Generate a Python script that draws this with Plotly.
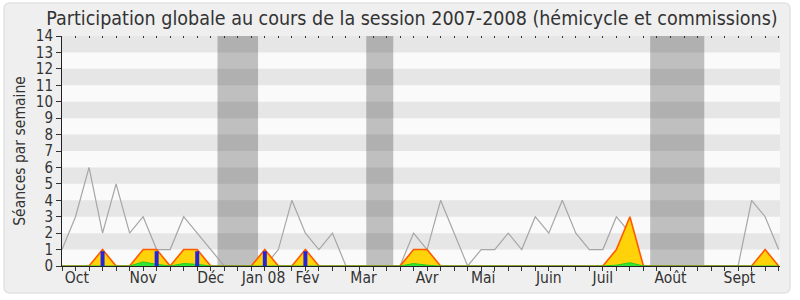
import plotly.graph_objects as go

# ---- data ----
weeks = list(range(54))
total_line = [1, 3, 6, 2, 5, 2, 3, 1, 1, 3, 2, 1, 0, 0, 0, 0, 1, 4, 2, 1,
              2, 0, 0, 0, 0, 0, 2, 1, 4, 2, 0, 1, 1, 2, 1, 3, 2, 4, 2, 1,
              1, 3, 2, 0, 0, 0, 0, 0, 0, 0, 0, 4, 3, 1]
presence = [0, 0, 0, 1, 0, 0, 1, 1, 0, 1, 1, 0, 0, 0, 0, 1, 0, 0, 1, 0,
            0, 0, 0, 0, 0, 0, 1, 1, 0, 0, 0, 0, 0, 0, 0, 0, 0, 0, 0, 0,
            0, 1, 3, 0, 0, 0, 0, 0, 0, 0, 0, 0, 1, 0]
commission = [0, 0, 0, 0, 0, 0, 0.25, 0.1, 0, 0.15, 0.1, 0, 0, 0, 0, 0, 0, 0, 0, 0,
              0, 0, 0, 0, 0, 0, 0.15, 0.05, 0, 0, 0, 0, 0, 0, 0, 0, 0, 0, 0, 0,
              0, 0.05, 0.2, 0, 0, 0, 0, 0, 0, 0, 0, 0, 0.03, 0]
interv_weeks = [3, 7, 10, 15, 18]
interv_values = [0.9, 0.9, 0.9, 0.9, 0.9]
vacances = [(11.5, 14.5), (22.5, 24.5), (43.5, 47.5)]
month_pos = [1.1, 6.0, 11.0, 14.9, 18.15, 22.3, 27.0, 31.15, 36.0, 40.0, 45.0, 50.1]
month_labels = ["Oct", "Nov", "Déc", "Jan 08", "Fév", "Mar", "Avr", "Mai", "Juin", "Juil", "Août", "Sept"]
y_ticks = list(range(15))

FONT = "DejaVu Sans Condensed"
XR = [0, 53.1]
ML, MR, MT, MB = 62, 20, 36, 34
W, H = 800, 300
PW, PH = W - ML - MR, H - MT - MB

fig = go.Figure()

# gray line
fig.add_trace(go.Scatter(x=weeks, y=total_line, mode="lines",
                         line=dict(color="#a6a6a6", width=1.2), hoverinfo="skip", showlegend=False))
# presence area (yellow)
fig.add_trace(go.Scatter(x=weeks, y=presence, mode="lines", fill="tozeroy",
                         fillcolor="#ffd20a", line=dict(color="#ff5a00", width=1.6),
                         hoverinfo="skip", showlegend=False))
# commission area (green)
fig.add_trace(go.Scatter(x=weeks, y=commission, mode="lines", fill="tozeroy",
                         fillcolor="#33e633", line=dict(color="#22cc22", width=1),
                         hoverinfo="skip", showlegend=False))
# interventions (blue bars as thick segments)
bx, by = [], []
for w, v in zip(interv_weeks, interv_values):
    bx += [w, w, None]
    by += [0, v, None]
fig.add_trace(go.Scatter(x=bx, y=by, mode="lines", line=dict(color="#2424dc", width=4),
                         hoverinfo="skip", showlegend=False))
# helper traces for extra axes
fig.add_trace(go.Scatter(x=[None], y=[None], xaxis="x2", showlegend=False, hoverinfo="skip"))
fig.add_trace(go.Scatter(x=[None], y=[None], xaxis="x3", showlegend=False, hoverinfo="skip"))

shapes = []


def px(x):
    return (x - ML) / PW


def py(y):
    return (H - MB - y) / PH


# rounded frame
x0, x1, y0, y1, r = 4, 790, 3, 293, 6
path = (f"M {px(x0 + r)} {py(y0)} L {px(x1 - r)} {py(y0)} Q {px(x1)} {py(y0)} {px(x1)} {py(y0 + r)} "
        f"L {px(x1)} {py(y1 - r)} Q {px(x1)} {py(y1)} {px(x1 - r)} {py(y1)} "
        f"L {px(x0 + r)} {py(y1)} Q {px(x0)} {py(y1)} {px(x0)} {py(y1 - r)} "
        f"L {px(x0)} {py(y0 + r)} Q {px(x0)} {py(y0)} {px(x0 + r)} {py(y0)} Z")
shapes.append(dict(type="path", xref="paper", yref="paper", path=path,
                   fillcolor="#efefef", line=dict(color="#e2e2e2", width=1.5), layer="below"))
# plot background
shapes.append(dict(type="rect", xref="paper", yref="paper", x0=0, x1=1, y0=0, y1=1,
                   fillcolor="#fafafa", line=dict(width=0), layer="below"))
# background stripes
for k in range(1, 14, 2):
    shapes.append(dict(type="rect", xref="paper", yref="y", x0=0, x1=1, y0=k, y1=k + 1,
                       fillcolor="#e6e6e6", line=dict(width=0), layer="below"))
# vacation bands
for a, b in vacances:
    shapes.append(dict(type="rect", xref="x", yref="paper", x0=a, x1=b, y0=0, y1=1,
                       fillcolor="rgba(0,0,0,0.235)", line=dict(width=0), layer="below"))

fig.update_layout(
    width=W, height=H,
    margin=dict(l=ML, r=MR, t=MT, b=MB),
    paper_bgcolor="#ffffff",
    plot_bgcolor="#fafafa",
    shapes=shapes,
    showlegend=False,
    title=dict(text="Participation globale au cours de la session 2007-2008 (hémicycle et commissions)",
               x=(412 - ML) / PW, xref="paper", xanchor="center",
               y=1 - 18 / H, yref="container", yanchor="middle",
               font=dict(family=FONT, size=19.5, color="#333333")),
    xaxis=dict(range=XR, tickvals=weeks, showticklabels=False, ticks="outside", ticklen=4,
               tickcolor="#333333", tickwidth=1, showline=True, linecolor="#222222", linewidth=1,
               showgrid=False, zeroline=False),
    xaxis2=dict(range=XR, overlaying="x", side="bottom", tickvals=month_pos, ticktext=month_labels,
                ticks="", showline=False, showgrid=False, zeroline=False,
                tickfont=dict(family=FONT, size=15.5, color="#333333")),
    xaxis3=dict(range=XR, overlaying="x", side="top", tickvals=weeks, showticklabels=False,
                ticks="inside", ticklen=2, tickcolor="#333333", showline=False, showgrid=False,
                zeroline=False),
    yaxis=dict(range=[0, 14], tickvals=y_ticks, ticks="outside", ticklen=5, tickcolor="#333333",
               showline=True, linecolor="#222222", linewidth=1, showgrid=False, zeroline=False,
               tickfont=dict(family=FONT, size=15, color="#333333"),
               title=dict(text="Séances par semaine", font=dict(family=FONT, size=15.5, color="#333333"),
                          standoff=6)),
)

fig.write_html("out.html")
